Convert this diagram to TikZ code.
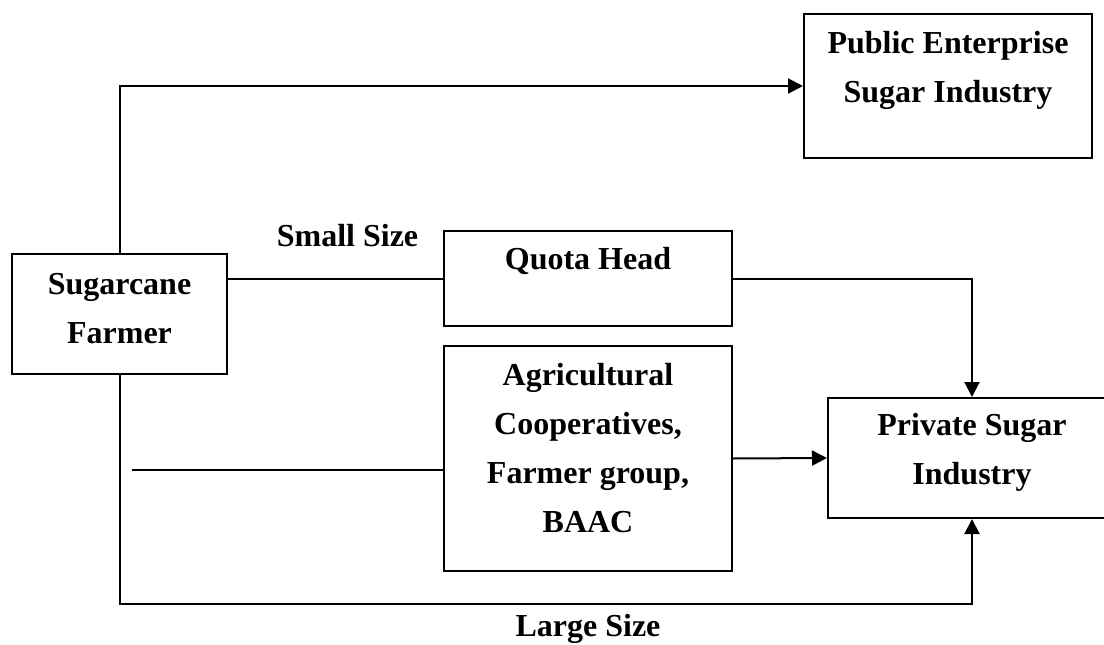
\documentclass[tikz,border=0pt]{standalone}
\usepackage{fontspec}
\setmainfont{Liberation Serif}
\usetikzlibrary{arrows.meta}
\begin{document}
\begin{tikzpicture}[x=1pt,y=1pt,
  box/.style={draw, line width=2pt, inner sep=0pt},
  txt/.style={font=\bfseries\fontsize{32}{49}\selectfont, align=center, inner sep=0pt},
  link/.style={line width=2pt},
  flow/.style={line width=2pt, -{Triangle[length=15pt,width=15pt]}}]
\useasboundingbox (0,0) rectangle (1104,-645);

% boxes
\node[box, minimum width=215pt, minimum height=120pt] (farmer) at (119.5,-314) {};
\node[box, minimum width=288pt, minimum height=144pt] (pub) at (948,-86) {};
\node[box, minimum width=288pt, minimum height=95pt] (quota) at (588,-278.5) {};
\node[box, minimum width=288pt, minimum height=225pt] (coop) at (588,-458.5) {};
\node[box, minimum width=288pt, minimum height=120pt] (priv) at (972,-458) {};

% box texts
\node[txt] (farmerT) at (119.5,-308.5) {Sugarcane\\Farmer};
\node[txt] (pubT) at (948,-70.5) {Public Enterprise\\Sugar Industry};
\node[txt] (quotaT) at (588,-261) {Quota Head};
\node[txt] (coopT) at (588,-448) {Agricultural\\Cooperatives,\\Farmer group,\\BAAC};
\node[txt] (privT) at (972,-452.5) {Private Sugar\\Industry};

% labels
\node[txt] (small) at (347.5,-236) {Small Size};
\node[txt] (large) at (588,-629) {Large Size};

% connectors
\coordinate (free) at (132,-470);
\draw[flow] (farmer.north) |- (pub.west);
\draw[link] (farmer.east |- quota.west) -- (quota.west);
\draw[flow] (quota.east) -| (priv.north);
\draw[flow] (coop.east) -- (priv.west);
\draw[link] (free) -- (free -| coop.west);
\coordinate (corner) at (119.5,-604);
\draw[flow] (farmer.south) -- (corner) -| (priv.south);
\end{tikzpicture}
\end{document}
